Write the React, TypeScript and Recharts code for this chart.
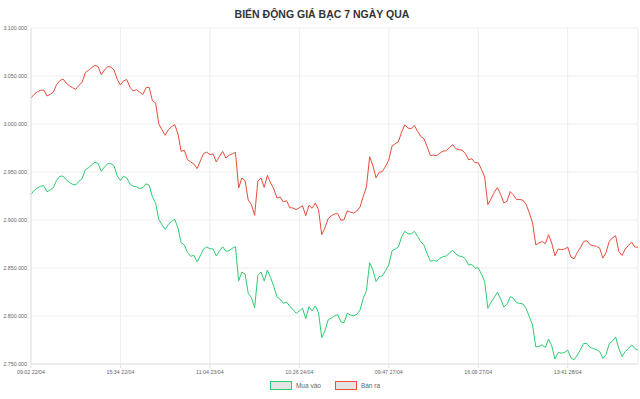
import React from "react";
import { LineChart, Line, XAxis, YAxis, CartesianGrid } from "recharts";

// tick labels shown on the time axis (every 28th sample)
const tickIdx = [0, 28, 56, 84, 112, 140, 168];
const tickLabels = ["09:02 22/04", "15:34 22/04", "11:04 23/04", "10:26 24/04", "09:47 27/04", "16:09 27/04", "13:41 28/04"];
const yTicks = [2750000, 2800000, 2850000, 2900000, 2950000, 3000000, 3050000, 3100000];

// Bán ra
const sell = [
  3027100, 3030900, 3033700, 3035100, 3035400, 3029200, 3030900, 3033300, 3041000, 3045100,
  3046900, 3042700, 3039900, 3037800, 3036100, 3040300, 3043400, 3053500, 3055900, 3058700,
  3061100, 3059700, 3051400, 3056200, 3059700, 3059400, 3056200, 3046500, 3040600, 3045100,
  3046200, 3038200, 3034400, 3035800, 3033300, 3030600, 3037800, 3038200, 3024300, 3021900,
  3000000, 2994100, 2988200, 2994100, 2997200, 2999300, 2989600, 2971500, 2972600, 2962800,
  2960400, 2958300, 2953500, 2961500, 2969100, 2970800, 2968100, 2968800, 2960400, 2966300,
  2971500, 2964600, 2967400, 2968800, 2970500, 2933300, 2943800, 2941000, 2920800, 2916000,
  2904900, 2940300, 2943800, 2934000, 2946500, 2938500, 2932300, 2922900, 2924000, 2918800,
  2920100, 2912800, 2912500, 2910800, 2912800, 2914900, 2904500, 2915300, 2912200, 2917700,
  2910800, 2884700, 2891700, 2901400, 2904500, 2906300, 2906600, 2899700, 2900300, 2909700,
  2908000, 2907300, 2909400, 2913600, 2924700, 2934500, 2965900, 2956800, 2943900, 2949800,
  2950500, 2956100, 2962400, 2977000, 2979400, 2981500, 2991600, 2999000, 2995800, 2995100,
  2998600, 2992300, 2987100, 2984700, 2976300, 2967200, 2967600, 2966900, 2969700, 2971800,
  2972100, 2975600, 2978400, 2974200, 2973200, 2972800, 2969000, 2962700, 2963800, 2959600,
  2959600, 2952600, 2944900, 2916000, 2922000, 2928600, 2933800, 2926500, 2917800, 2919500,
  2929600, 2926100, 2921300, 2921300, 2920600, 2916000, 2907300, 2896900, 2874200, 2876000,
  2877700, 2875300, 2884700, 2876000, 2862700, 2869700, 2869000, 2869700, 2871800, 2861300,
  2859600, 2866200, 2871400, 2877700, 2878400, 2874200, 2873200, 2872500, 2870700, 2860300,
  2866200, 2877700, 2881500, 2883600, 2867200, 2863100, 2869700, 2873500, 2877000, 2871800,
  2871800,
];

// Mua vào
const buy = [
  2926700, 2930900, 2933300, 2935100, 2935800, 2929500, 2931300, 2933700, 2941300, 2945500,
  2945800, 2942000, 2939200, 2937200, 2936500, 2940300, 2943100, 2952400, 2954500, 2957300,
  2960100, 2959000, 2950700, 2955200, 2958700, 2958700, 2956300, 2945800, 2941300, 2945500,
  2943800, 2937500, 2935100, 2934700, 2932600, 2933700, 2937800, 2936100, 2924300, 2917400,
  2900700, 2895100, 2890300, 2895500, 2898600, 2900700, 2891700, 2876400, 2874000, 2866000,
  2862200, 2863200, 2856300, 2862800, 2869800, 2871900, 2870100, 2869800, 2862500, 2867700,
  2872200, 2867400, 2868100, 2870500, 2872200, 2836500, 2845800, 2843800, 2823600, 2819100,
  2808700, 2842400, 2845800, 2836500, 2847900, 2839900, 2830600, 2819800, 2817400, 2813200,
  2814600, 2810100, 2807000, 2802800, 2805200, 2808000, 2797200, 2809700, 2805200, 2810400,
  2803500, 2777400, 2784400, 2795800, 2797900, 2800000, 2801400, 2793800, 2793100, 2802800,
  2801000, 2800300, 2801700, 2806300, 2818500, 2826500, 2855400, 2848100, 2835900, 2841100,
  2841800, 2847400, 2853300, 2867900, 2869700, 2871800, 2882600, 2888200, 2885700, 2885400,
  2888200, 2882900, 2877400, 2873900, 2864800, 2857100, 2857800, 2857100, 2859900, 2862000,
  2862400, 2865900, 2868300, 2864500, 2862400, 2862000, 2859200, 2853000, 2853700, 2849800,
  2850200, 2843600, 2835900, 2808000, 2814300, 2819500, 2824700, 2817800, 2809400, 2812200,
  2820200, 2818500, 2813600, 2813200, 2812500, 2807700, 2799000, 2790600, 2767900, 2768300,
  2770000, 2767200, 2776000, 2769000, 2755100, 2762000, 2761300, 2762000, 2764500, 2756400,
  2754400, 2759200, 2765200, 2771400, 2771400, 2767200, 2766200, 2764800, 2763100, 2755700,
  2759900, 2771100, 2773900, 2778000, 2766200, 2757800, 2763100, 2765900, 2770000, 2766200,
  2764500,
];

const data = buy.map((b, i) => ({ i, buy: b, sell: sell[i] }));

const GREEN = "#2ecc71";
const RED = "#e74c3c";
const FONT = "'Liberation Sans', Arial, Helvetica, sans-serif";

const fmt = (v: number) => String(v).replace(/\B(?=(\d{3})+(?!\d))/g, ".");

const LegendItem = ({ color, label }: { color: string; label: string }) => (
  <div style={{ display: "flex", alignItems: "center", marginRight: 14 }}>
    <div style={{ width: 20, height: 7, border: `1px solid ${color}`, background: "#e4e4e4", marginRight: 4 }} />
    <span style={{ fontSize: 6.5, color: "#666" }}>{label}</span>
  </div>
);

export default function App() {
  return (
    <div style={{ position: "absolute", left: 0, top: 0, width: 640, height: 399, background: "#fff", fontFamily: FONT }}>
      <div style={{ position: "absolute", top: 7, left: 2, width: 640, textAlign: "center", fontSize: 10.5, fontWeight: "bold", color: "#333", lineHeight: "14px" }}>
        BIẾN ĐỘNG GIÁ BẠC 7 NGÀY QUA
      </div>
      <LineChart width={640} height={399} data={data} margin={{ top: 28, right: 2, bottom: 21, left: 0 }}>
        <CartesianGrid stroke="#ededed" strokeWidth={1} />
        <XAxis
          dataKey="i"
          type="number"
          domain={[0, 190]}
          ticks={tickIdx}
          tickFormatter={(v: number) => tickLabels[tickIdx.indexOf(v)] ?? ""}
          height={14}
          stroke="#e2e2e2"
          tickSize={4}
          tickMargin={2}
          tick={{ fontSize: 5.3, fill: "#666", fontFamily: FONT }}
          interval={0}
        />
        <YAxis
          type="number"
          domain={[2750000, 3100000]}
          ticks={yTicks}
          tickFormatter={fmt}
          width={31}
          stroke="#e2e2e2"
          tickLine={false}
          tickSize={0}
          tickMargin={4}
          tick={{ fontSize: 5.3, fill: "#666", fontFamily: FONT }}
          interval={0}
        />
        <Line type="linear" dataKey="buy" stroke={GREEN} strokeWidth={1} dot={false} isAnimationActive={false} />
        <Line type="linear" dataKey="sell" stroke={RED} strokeWidth={1} dot={false} isAnimationActive={false} />
      </LineChart>
      <div style={{ position: "absolute", top: 381, left: 0, width: 640, display: "flex", justifyContent: "center", paddingLeft: 24, boxSizing: "border-box" }}>
        <LegendItem color={GREEN} label="Mua vào" />
        <LegendItem color={RED} label="Bán ra" />
      </div>
    </div>
  );
}
